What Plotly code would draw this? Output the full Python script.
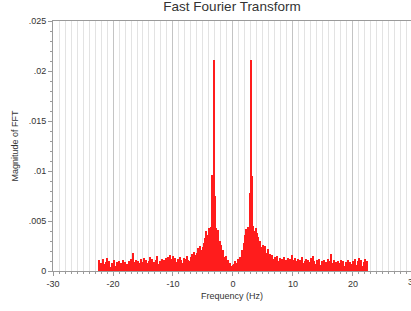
import numpy as np
import plotly.graph_objects as go

# frequency bins (Hz), 0.2 Hz spacing
freq_neg = np.round(np.arange(-22.4, -0.1, 0.2), 1)
freq_pos = np.round(np.arange(0.2, 22.5, 0.2), 1)

mag_neg = [
    0.0011, 0.0006,
    0.0008, 0.0005, 0.0012, 0.0007, 0.0009,
    0.0013, 0.0006, 0.0010, 0.0004, 0.0008,
    0.0007, 0.0011, 0.0005, 0.0009, 0.0006,
    0.0010, 0.0004, 0.0008, 0.0011, 0.0006,
    0.0009, 0.0005, 0.0007, 0.0010, 0.0004,
    0.0012, 0.0008, 0.0018, 0.0009, 0.0011,
    0.0006, 0.0010, 0.0008, 0.0012, 0.0005,
    0.0009, 0.0013, 0.0007, 0.0011, 0.0008,
    0.0010, 0.0014, 0.0006, 0.0012, 0.0009,
    0.0008, 0.0011, 0.0015, 0.0007, 0.0010,
    0.0009, 0.0012, 0.0008, 0.0011, 0.0013,
    0.0010, 0.0014, 0.0009, 0.0016, 0.0012,
    0.0015, 0.0011, 0.0013, 0.0009, 0.0012,
    0.0010, 0.0014, 0.0011, 0.0008, 0.0013,
    0.0012, 0.0009, 0.0015, 0.0011, 0.0010,
    0.0014, 0.0017, 0.0013, 0.0019, 0.0016,
    0.0018, 0.0023, 0.0017, 0.0025, 0.0021,
    0.0024, 0.0028, 0.0033, 0.0040, 0.0036,
    0.0043, 0.0039, 0.0044, 0.0096, 0.0211,
    0.0075, 0.0043, 0.0038, 0.0041, 0.0030,
    0.0026, 0.0019, 0.0021, 0.0014, 0.0015,
    0.0009, 0.0011, 0.0007, 0.0008, 0.0005,
]
freq_zero = [0.0]
mag_zero = [0.0006]
mag_pos = [
    0.0007, 0.0010, 0.0008, 0.0012, 0.0011,
    0.0014, 0.0013, 0.0021, 0.0028, 0.0036,
    0.0042, 0.0039, 0.0044, 0.0078, 0.0211,
    0.0095, 0.0045, 0.0040, 0.0043, 0.0038,
    0.0034, 0.0027, 0.0030, 0.0024, 0.0026,
    0.0021, 0.0025, 0.0018, 0.0022, 0.0016,
    0.0017, 0.0013, 0.0016, 0.0012, 0.0014,
    0.0011, 0.0015, 0.0010, 0.0013, 0.0009,
    0.0012, 0.0008, 0.0014, 0.0011, 0.0010,
    0.0013, 0.0009, 0.0012, 0.0016, 0.0011,
    0.0008, 0.0013, 0.0010, 0.0012, 0.0007,
    0.0011, 0.0009, 0.0014, 0.0008, 0.0010,
    0.0012, 0.0007, 0.0011, 0.0009, 0.0013,
    0.0008, 0.0015, 0.0010, 0.0007, 0.0011,
    0.0009, 0.0012, 0.0006, 0.0010, 0.0008,
    0.0011, 0.0007, 0.0009, 0.0012, 0.0006,
    0.0010, 0.0017, 0.0008, 0.0011, 0.0007,
    0.0009, 0.0006, 0.0010, 0.0008, 0.0011,
    0.0007, 0.0010, 0.0005, 0.0009, 0.0008,
    0.0011, 0.0006, 0.0009, 0.0007, 0.0010,
    0.0008, 0.0012, 0.0006, 0.0010, 0.0013,
    0.0007, 0.0011, 0.0005, 0.0009, 0.0012,
    0.0006, 0.0010,
]

x_ticks = [-30, -20, -10, 0, 10, 20]
x_ticklabels = ["-30", "-20", "-10", "0", "10", "20"]
y_ticks = [0, 0.005, 0.01, 0.015, 0.02, 0.025]
y_ticklabels = ["0", ".005", ".01", ".015", ".02", ".025"]

freqs = list(freq_neg) + freq_zero + list(freq_pos)
mags = mag_neg + mag_zero + mag_pos

fig = go.Figure()
fig.add_trace(go.Bar(
    x=freqs, y=mags, width=0.2,
    marker=dict(color="#ff1c1c", line=dict(width=0)),
))

axis_font = dict(family="Liberation Sans, Arial, sans-serif", size=9, color="#333333")

fig.update_layout(
    width=411, height=311,
    margin=dict(l=53, r=0, t=21, b=40),
    paper_bgcolor="white", plot_bgcolor="white",
    showlegend=False, bargap=0,
    title=dict(text="Fast Fourier Transform", x=232/411, xanchor="center",
               y=1 - 2/311, yanchor="top",
               font=dict(family="Liberation Sans, Arial, sans-serif", size=13.5, color="#333333")),
    xaxis=dict(
        range=[-30, 29.67], tickvals=x_ticks, ticktext=x_ticklabels,
        showgrid=True, gridcolor="#c4c4c4", gridwidth=1,
        showline=True, linecolor="#9a9a9a", linewidth=1, mirror=True,
        ticks="outside", ticklen=4, tickcolor="#9a9a9a",
        minor=dict(dtick=1, tick0=0, showgrid=True, gridcolor="#e3e3e3", gridwidth=1,
                   ticks="outside", ticklen=2, tickcolor="#9a9a9a"),
        zeroline=False, tickfont=axis_font,
        title=dict(text="Frequency (Hz)", font=axis_font, standoff=4),
    ),
    yaxis=dict(
        range=[0, 0.025], tickvals=y_ticks, ticktext=y_ticklabels,
        showgrid=False, zeroline=False,
        showline=True, linecolor="#9a9a9a", linewidth=1,
        ticks="outside", ticklen=4, tickcolor="#9a9a9a",
        minor=dict(dtick=0.001, tick0=0, ticks="outside", ticklen=2, tickcolor="#9a9a9a"),
        tickfont=axis_font,
        title=dict(text="Magnitude of FFT", font=axis_font, standoff=8),
    ),
)

fig.add_annotation(text="30", xref="paper", yref="paper", x=1 + 2/358, y=0,
                   yshift=-4, xanchor="center", yanchor="top", showarrow=False,
                   font=axis_font)

fig.write_html("out.html",
               config={"displayModeBar": False},
               post_script="document.body.style.margin='0';document.body.style.overflow='hidden';")
